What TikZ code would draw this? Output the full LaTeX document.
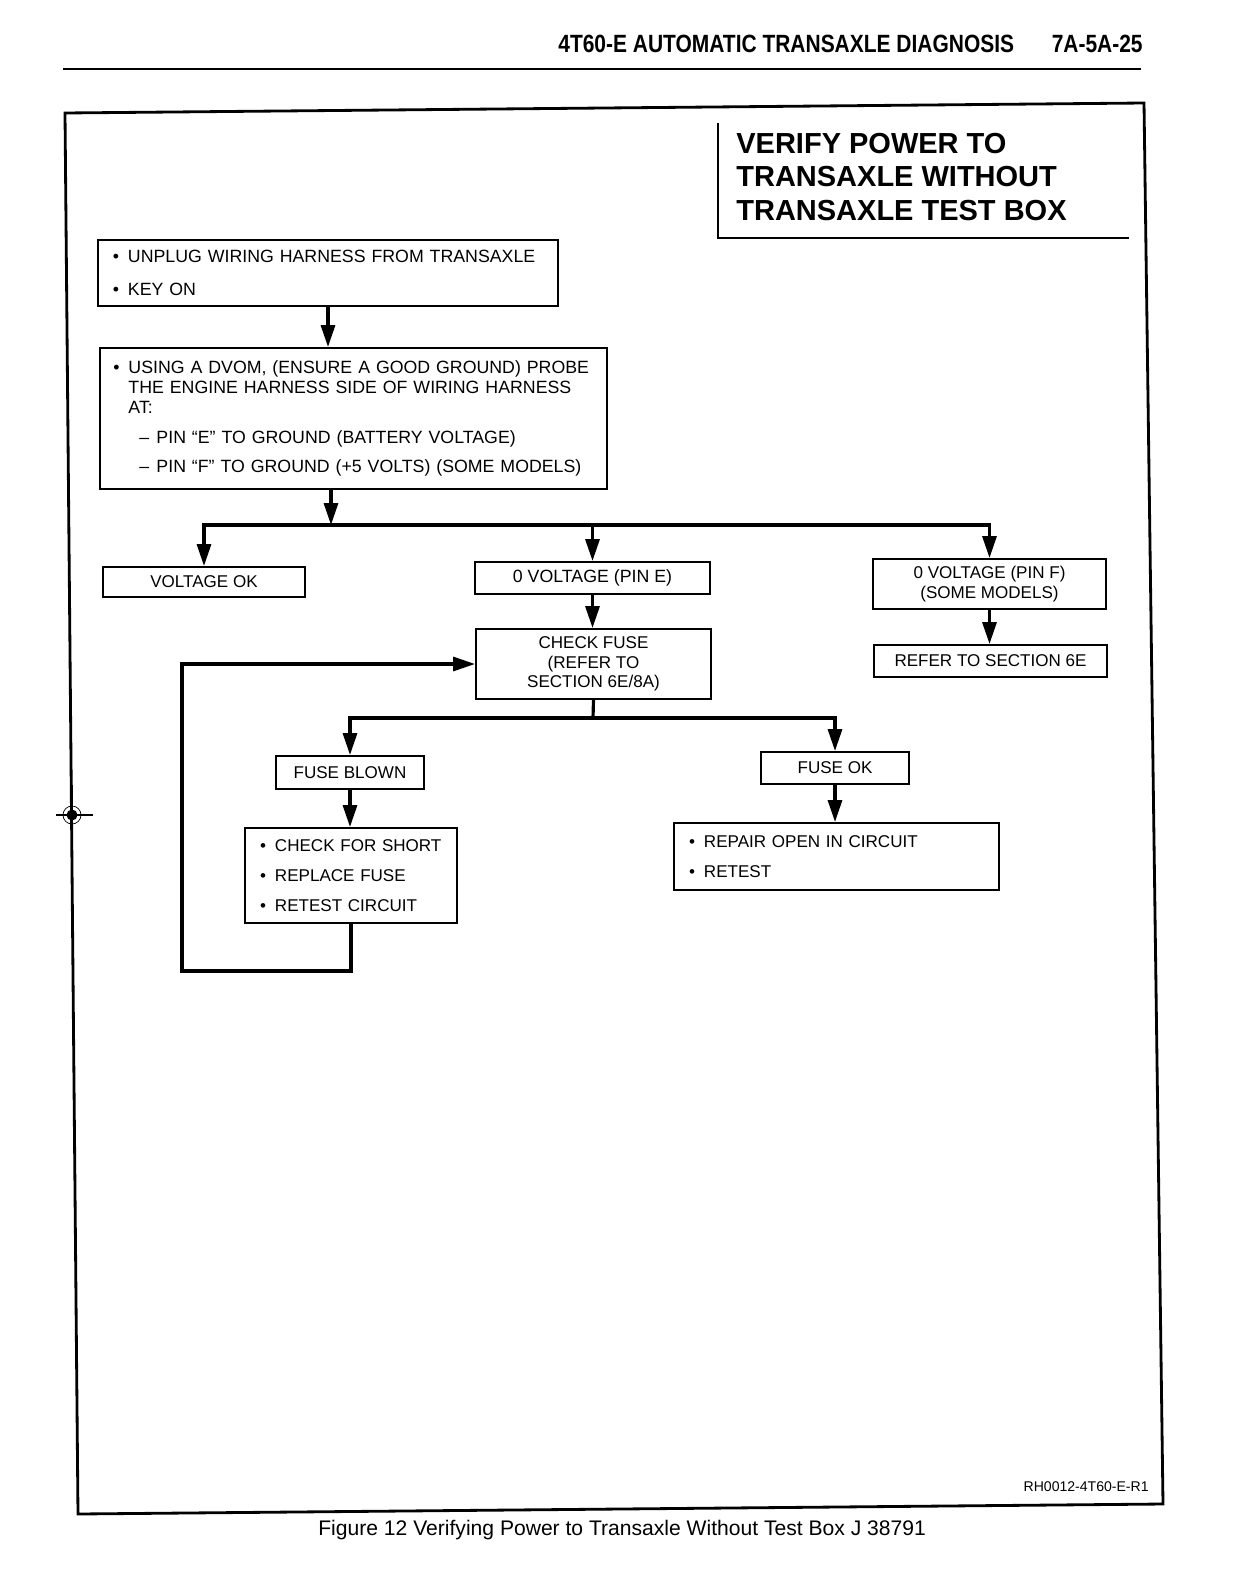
\documentclass[tikz,border=0pt]{standalone}
\usepackage{fontspec}
\setmainfont{Liberation Sans}
\newfontfamily\narrowfont[FakeStretch=0.84]{Liberation Sans}
\usetikzlibrary{arrows.meta,calc}

\newcommand{\bul}{\makebox[3mm][l]{\textbullet}}
\newcommand{\subdash}{\hspace*{2.2mm}\makebox[3.4mm][l]{--}}

\begin{document}
\begin{tikzpicture}[x=0.2mm, y=-0.2mm,
  box/.style={draw, line width=1.1pt, align=center, inner sep=0pt, font=\fontsize{9.7}{11}\selectfont},
  big/.style={font=\fontsize{10.1}{11.4}\selectfont},
  lst/.style={box, align=left, inner xsep=3mm},
  arr/.style={-{Triangle[length=4.4mm, width=2.8mm]}, line width=1.8pt},
  wire/.style={line width=1.8pt},
  hdr/.style={font=\narrowfont\bfseries\fontsize{14.2}{16}\selectfont, inner sep=0pt}]
\useasboundingbox (0,0) rectangle (1232,1584);
% page furniture
\node[hdr, anchor=west] (head) at (558,44) {4T60-E AUTOMATIC TRANSAXLE DIAGNOSIS};
\node[hdr, anchor=east] (page) at (1143,44) {7A-5A-25};
\draw[line width=1.4pt] (63,69) -- (1141,69);
\draw[line width=1.6pt] (65,113) -- (1144,103) -- (1163,1504) -- (78,1514) -- cycle;
\fill (72,815) circle (5.5);
\draw[line width=0.4pt] (72,815) circle (9);
\draw[line width=1pt] (72,785) -- (72,842) (56,815) -- (93,815);
% title block
\draw[line width=1.1pt] (718,123) -- (718,238) -- (1129,238);
\node[anchor=west, align=left, inner sep=0pt, font=\bfseries\fontsize{16.5}{19}\selectfont] (title) at (736,177)
  {VERIFY POWER TO\\TRANSAXLE WITHOUT\\TRANSAXLE TEST BOX};
% steps
\node[lst, big, text width=86mm, minimum height=13.2mm] (unplug) at (328,273)
  {\bul UNPLUG WIRING HARNESS FROM TRANSAXLE\\[7.3pt]\bul KEY ON};
\node[lst, big, text width=96mm, minimum height=28.2mm, inner xsep=2.7mm] (probe) at (353.5,418.5)
  {\bul USING A DVOM, (ENSURE A GOOD GROUND) PROBE\\
   \hspace*{3mm}THE ENGINE HARNESS SIDE OF WIRING HARNESS\\
   \hspace*{3mm}AT:\\[5.4pt]
   \hspace*{3mm}\subdash PIN “E” TO GROUND (BATTERY VOLTAGE)\\[5.4pt]
   \hspace*{3mm}\subdash PIN “F” TO GROUND (+5 VOLTS) (SOME MODELS)\\[1.2mm]};
\node[box, minimum width=40.4mm, minimum height=6mm] (vok) at (204,582) {VOLTAGE OK};
\node[box, big, minimum width=47mm, minimum height=6.4mm] (pine) at (592.5,578) {0 VOLTAGE (PIN E)};
\node[box, minimum width=46.6mm, minimum height=10mm] (pinf) at (989.5,584) {0 VOLTAGE (PIN F)\\(SOME MODELS)};
\node[box, minimum width=46.6mm, minimum height=6.4mm] (sec6e) at (990.5,661) {REFER TO SECTION 6E};
\node[box, minimum width=47mm, minimum height=14mm] (fuse) at (593.5,664) {CHECK FUSE\\(REFER TO\\SECTION 6E/8A)};
\node[box, minimum width=29.6mm, minimum height=6.6mm] (blown) at (350,772.5) {FUSE BLOWN};
\node[box, minimum width=29.6mm, minimum height=6.4mm] (fuseok) at (835,768) {FUSE OK};
\node[lst, text width=36.4mm, minimum height=19mm] (short) at (351,875.5)
  {\bul CHECK FOR SHORT\\[6pt]\bul REPLACE FUSE\\[6pt]\bul RETEST CIRCUIT};
\node[lst, text width=59mm, minimum height=13.4mm] (repair) at (836.5,856.5)
  {\bul REPAIR OPEN IN CIRCUIT\\[6pt]\bul RETEST};
% connectors
\coordinate (split1) at (331,525);
\coordinate (split2) at (593,718);
\coordinate (loop) at (182,971);
\draw[arr] (unplug.south) -- (unplug.south |- probe.north);
\draw[arr] (probe.south -| split1) -- (split1);
\draw[arr] (split1) -| (vok.north);
\draw[arr] (split1) -| (pinf.north);
\draw[arr] (split1 -| pine) -- (pine.north);
\draw[arr] (pine.south) -- (pine.south |- fuse.north);
\draw[arr] (pinf.south) -- (pinf.south |- sec6e.north);
\draw[wire] (fuse.south) -- (split2);
\draw[arr] (split2) -| (blown.north);
\draw[arr] (split2) -| (fuseok.north);
\draw[arr] (blown.south) -- (blown.south |- short.north);
\draw[arr] (fuseok.south) -- (fuseok.south |- repair.north);
\draw[arr] (short.south) |- (loop) |- (fuse.west);
% captions
\node[anchor=east, inner sep=0pt, font=\fontsize{8}{9}\selectfont] (ref) at (1149,1487) {RH0012-4T60-E-R1};
\node[anchor=west, inner sep=0pt, font=\fontsize{12}{14}\selectfont] (caption) at (318,1530)
  {Figure 12 Verifying Power to Transaxle Without Test Box J 38791};
\end{tikzpicture}
\end{document}
